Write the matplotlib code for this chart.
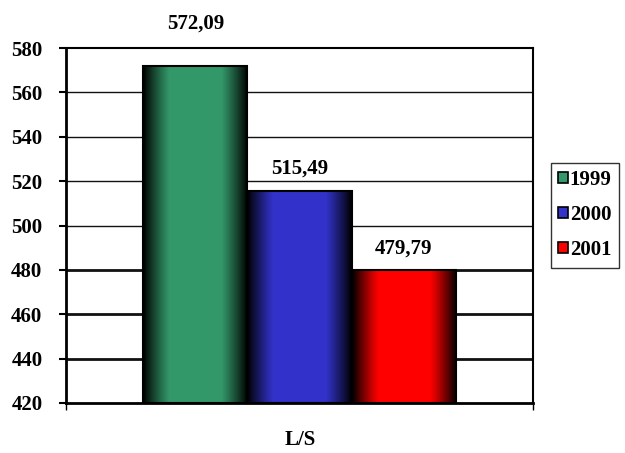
import numpy as np
import matplotlib
matplotlib.use("Agg")
import matplotlib.pyplot as plt
from matplotlib.patches import Rectangle, Patch
from matplotlib.colors import LinearSegmentedColormap

plt.rcParams['font.family'] = ['Liberation Serif', 'DejaVu Serif']
plt.rcParams['font.weight'] = 'bold'

years = ['1999', '2000', '2001']
values = [572.09, 515.49, 479.79]
value_labels = ['572,09', '515,49', '479,79']
category = 'L/S'
yticks = [420, 440, 460, 480, 500, 520, 540, 560, 580]
colors = ['#33996a', '#3333cc', '#ff0000']

FS = 15

fig = plt.figure(figsize=(6.25, 4.53), dpi=100)
ax = fig.add_axes([66 / 625, 1 - 403 / 453, (533 - 66) / 625, (403 - 48) / 453])

ymin, ymax = 420, 580
ax.set_ylim(ymin, ymax)
ax.set_xlim(-2.245, 2.245)

# horizontal grid lines
for t in yticks[1:-1]:
    ax.axhline(t, color='#111111', lw=2.0 if t <= 480 else 1.0, zorder=1)

positions = [-1, 0, 1]
width = 1.0
u = np.linspace(0, 1, 256)
shade = 0.5 - 0.5 * (1 - np.clip(np.sin(np.pi * u) * 1.4, 0, 1))
shade = np.where(u < 0.5, shade, 1 - shade)
for pos, val, col, lab in zip(positions, values, colors, value_labels):
    x0 = pos - width / 2
    # horizontal shading: dark edges, bright centre
    cmap = LinearSegmentedColormap.from_list(
        'shade', [(0.0, '#000000'), (0.5, col), (1.0, '#000000')])
    img = ax.imshow(shade[None, :], cmap=cmap, vmin=0, vmax=1, aspect='auto',
                    extent=(x0, x0 + width, ymin, val), zorder=2,
                    interpolation='bilinear')
    rect = Rectangle((x0, ymin), width, val - ymin, facecolor='none',
                     edgecolor='black', lw=1.5, zorder=3)
    ax.add_patch(rect)
    img.set_clip_path(rect)
    # value label above the bar; pushed above the frame when it would hit it
    ylab = val + 10
    if ylab > ymax - 6:
        ylab = ymax + 11
    ax.text(pos, ylab, lab, ha='center', va='center', fontsize=FS,
            fontweight='bold', zorder=4, clip_on=False)

ax.set_xlim(-2.245, 2.245)
ax.set_ylim(ymin, ymax)
ax.set_yticks(yticks)
ax.set_yticklabels([str(t) for t in yticks], fontsize=FS, fontweight='bold')
ax.set_xticks([-2.245, 2.245])
ax.set_xticklabels(['', ''])
ax.tick_params(axis='y', direction='out', length=5, width=1.5, pad=12)
ax.tick_params(axis='x', direction='out', length=5, width=1.0)
for s in ['left', 'bottom']:
    ax.spines[s].set_linewidth(2.0)
for s in ['top', 'right']:
    ax.spines[s].set_linewidth(1.5)
fig.text(300 / 625, 1 - 440 / 453, category, ha='center', va='center',
         fontsize=FS, fontweight='bold')

handles = [Patch(facecolor=c, edgecolor='black', lw=1.2) for c in colors]
leg = fig.legend(handles, years, loc='upper left',
                 bbox_to_anchor=(551 / 625, 1 - 163 / 453),
                 frameon=True, fancybox=False, fontsize=FS,
                 handlelength=0.45, handleheight=0.45, handletextpad=0.1,
                 labelspacing=0.72, borderpad=0.35, borderaxespad=0)
leg.get_frame().set_edgecolor('black')
leg.get_frame().set_linewidth(1.0)
for t in leg.get_texts():
    t.set_fontweight('bold')

fig.savefig('out.png', dpi=100)
